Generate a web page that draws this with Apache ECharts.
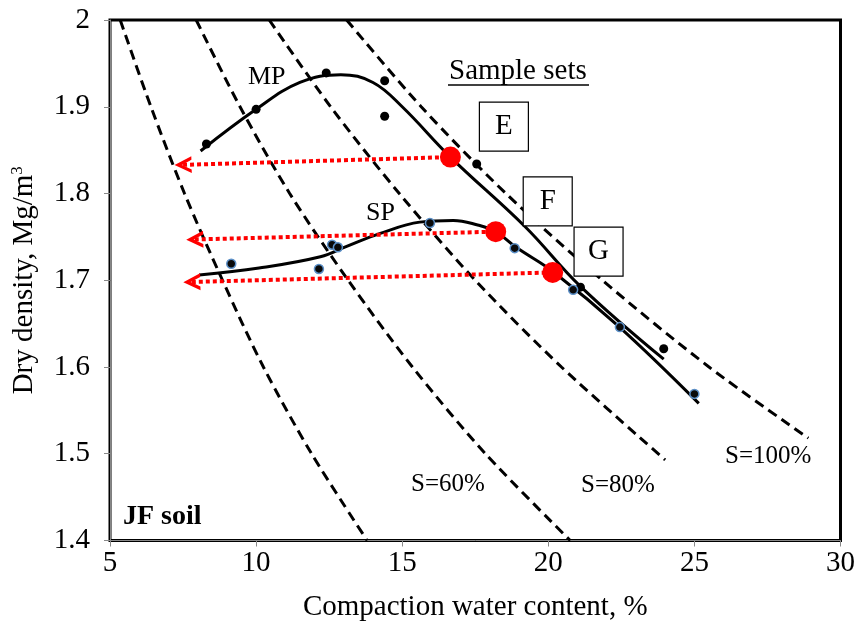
<!DOCTYPE html>
<html>
<head>
<meta charset="utf-8">
<title>JF soil compaction</title>
<script src="https://cdn.jsdelivr.net/npm/echarts@6/dist/echarts.min.js"></script>
<style>
  html, body { margin: 0; padding: 0; background: #fff; }
  #chart { width: 861px; height: 639px; }
</style>
</head>
<body>
<div id="chart"></div>
<script>
// x = compaction water content (%), y = dry density (Mg/m3)
const xTicks = [5, 10, 15, 20, 25, 30];
const yTicks = [1.4, 1.5, 1.6, 1.7, 1.8, 1.9, 2];

// measured points
const mpPoints = [[8.3, 1.857], [10.0, 1.897], [12.4, 1.939], [14.4, 1.930], [14.4, 1.889],
  [17.55, 1.834], [21.1, 1.692], [23.95, 1.621]];
const spPoints = [[9.15, 1.719], [12.15, 1.713], [12.6, 1.741], [12.8, 1.738], [15.95, 1.766],
  [18.85, 1.737], [20.85, 1.689], [22.45, 1.646], [25.0, 1.569]];

// fitted compaction curves
const mpCurve = [[8.1, 1.849], [10.0, 1.897], [11.5, 1.928], [12.9, 1.937], [14.0, 1.928],
  [15.0, 1.900], [16.65, 1.842], [19.2, 1.762], [21.1, 1.693], [23.95, 1.609]];
const spCurve = [[8.05, 1.706], [10.1, 1.714], [12.2, 1.727], [13.1, 1.739], [14.25, 1.754],
  [15.6, 1.767], [16.75, 1.769], [17.55, 1.764], [18.2, 1.756], [18.9, 1.738],
  [20.2, 1.709], [22.4, 1.647], [25.15, 1.558]];

// saturation lines
const sat40 = [[5.35, 2.0], [6.4, 1.9], [7.55, 1.8], [8.85, 1.7], [10.25, 1.6], [11.9, 1.5], [13.8, 1.4]];
const sat60 = [[7.95, 2.0], [9.45, 1.9], [11.15, 1.8], [13.15, 1.7], [15.35, 1.6], [17.85, 1.5], [20.75, 1.4]];
const sat80 = [[10.45, 2.0], [12.55, 1.9], [14.9, 1.8], [17.5, 1.7], [20.45, 1.6], [24.0, 1.493]];
const sat100 = [[13.1, 2.0], [15.65, 1.9], [18.55, 1.8], [21.85, 1.7], [25.5, 1.6], [28.9, 1.518]];

// sample sets
const sampleNames = ['E', 'F', 'G'];
const samplePoints = [[16.65, 1.842], [18.2, 1.756], [20.15, 1.709]];
const arrowEnds = [[7.5, 1.833], [7.9, 1.747], [7.8, 1.698]];
const boxCenters = [[18.48, 1.877], [19.98, 1.791], [21.72, 1.733]];

const serif = '"Liberation Serif", "Times New Roman", serif';
// open chevron, drawn pointing up (markLine turns it along the line)
const chevron = 'path://M0,16 L8,0 L16,16 L12.5,16 L8,7 L3.5,16 Z';

const dashed = (data) => ({
  type: 'line',
  data: data,
  smooth: 0.3,
  showSymbol: false,
  silent: true,
  z: 1,
  lineStyle: { color: '#000', width: 3, type: [10, 6] },
});

const curve = (data) => ({
  type: 'line',
  data: data,
  smooth: 0.4,
  showSymbol: false,
  silent: true,
  z: 2,
  lineStyle: { color: '#000', width: 3 },
});

const chart = echarts.init(document.getElementById('chart'), null, { renderer: 'canvas' });

const option = {
  animation: false,
  backgroundColor: '#fff',
  grid: {
    left: 110,
    right: 20.5,
    top: 20,
    bottom: 98.5,
    containLabel: false,
    show: true,
    borderColor: '#000',
    borderWidth: 3,
  },
  xAxis: {
    type: 'value',
    min: xTicks[0],
    max: xTicks[xTicks.length - 1],
    interval: 5,
    name: 'Compaction water content, %',
    nameLocation: 'middle',
    nameGap: 52,
    nameTextStyle: { fontFamily: serif, fontSize: 29, color: '#000' },
    axisLine: { show: true, lineStyle: { color: '#888', width: 1 } },
    axisTick: { show: true, inside: false, length: 6, lineStyle: { color: '#888' } },
    axisLabel: { fontFamily: serif, fontSize: 29, color: '#000', margin: 8 },
    splitLine: { show: false },
  },
  yAxis: {
    type: 'value',
    min: yTicks[0],
    max: yTicks[yTicks.length - 1],
    interval: 0.1,
    name: 'Dry density, Mg/m{sup|3}',
    nameLocation: 'middle',
    nameGap: 70,
    nameRotate: 90,
    nameTextStyle: {
      fontFamily: serif, fontSize: 29, color: '#000',
      rich: { sup: { fontFamily: serif, fontSize: 17, color: '#000', verticalAlign: 'top', padding: [0, 0, 14, 0] } },
    },
    axisLine: { show: true, lineStyle: { color: '#888', width: 1 } },
    axisTick: { show: true, inside: false, length: 6, lineStyle: { color: '#888' } },
    axisLabel: { fontFamily: serif, fontSize: 29, color: '#000', margin: 20 },
    splitLine: { show: false },
  },
  series: [
    dashed(sat40),
    dashed(sat60),
    dashed(sat80),
    dashed(sat100),
    curve(mpCurve),
    curve(spCurve),
    {
      type: 'scatter',
      data: mpPoints,
      symbolSize: 9,
      z: 3,
      itemStyle: { color: '#000', opacity: 1 },
    },
    {
      type: 'scatter',
      data: spPoints,
      symbolSize: 9,
      z: 3,
      itemStyle: { color: '#0a0a0a', borderColor: '#5b8fc7', borderWidth: 1.5, opacity: 1 },
    },
    {
      type: 'scatter',
      data: samplePoints,
      symbolSize: 21,
      z: 6,
      itemStyle: { color: '#ff0000', opacity: 1 },
      markLine: {
        silent: true,
        animation: false,
        symbol: [chevron, 'none'],
        symbolSize: [17, 17],
        label: { show: false },
        lineStyle: { color: '#ff0000', width: 4, type: [4, 3], cap: 'butt', opacity: 1 },
        itemStyle: { color: '#ff0000', opacity: 1 },
        data: samplePoints.map((p, i) => [
          { coord: arrowEnds[i] },
          { coord: p },
        ]),
      },
    },
    {
      type: 'scatter',
      data: boxCenters.map((c, i) => ({ value: c, name: sampleNames[i] })),
      symbol: 'rect',
      symbolSize: 49,
      z: 5,
      itemStyle: { color: '#fff', borderColor: '#000', borderWidth: 1.2, opacity: 1 },
      label: {
        show: true,
        position: 'inside',
        formatter: '{b}',
        fontFamily: serif,
        fontSize: 29,
        color: '#000',
      },
    },
  ],
  graphic: [
    { type: 'text', left: 248, top: 64, z: 10, style: { text: 'MP', font: '26px ' + serif, fill: '#000' } },
    { type: 'text', left: 366, top: 200, z: 10, style: { text: 'SP', font: '26px ' + serif, fill: '#000' } },
    { type: 'text', left: 449, top: 57, z: 10, style: { text: 'Sample sets', font: '29px ' + serif, fill: '#000' } },
    { type: 'line', z: 10, shape: { x1: 448, y1: 85, x2: 589, y2: 85 }, style: { stroke: '#000', lineWidth: 1.5 } },
    { type: 'text', left: 411, top: 472, z: 10, style: { text: 'S=60%', font: '25px ' + serif, fill: '#000' } },
    { type: 'text', left: 581, top: 473, z: 10, style: { text: 'S=80%', font: '25px ' + serif, fill: '#000' } },
    { type: 'text', left: 725, top: 444, z: 10, style: { text: 'S=100%', font: '25px ' + serif, fill: '#000' } },
    { type: 'text', left: 123, top: 503, z: 10, style: { text: 'JF soil', font: 'bold 28px ' + serif, fill: '#000' } },
  ],
};

chart.setOption(option);
</script>
</body>
</html>
